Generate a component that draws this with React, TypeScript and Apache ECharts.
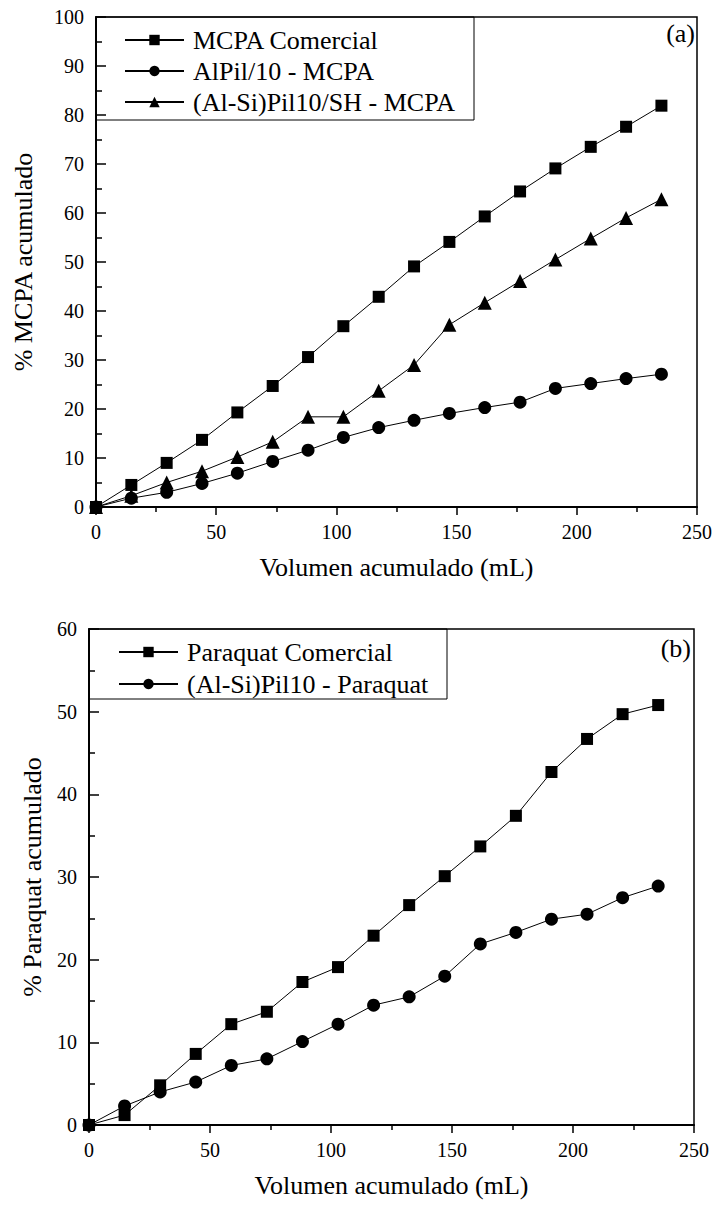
import React, { useEffect, useRef } from "react";
import * as echarts from "echarts";

const volumes = [0, 14.7, 29.4, 44.1, 58.8, 73.5, 88.2, 102.9, 117.6, 132.3, 147, 161.7, 176.4, 191.1, 205.8, 220.5, 235.2];

const mcpaComercial = [0, 4.5, 9, 13.7, 19.3, 24.7, 30.6, 36.9, 42.9, 49.1, 54.1, 59.3, 64.4, 69.1, 73.5, 77.6, 81.9];
const alPilMcpa = [0, 1.8, 3, 4.8, 6.9, 9.3, 11.6, 14.2, 16.2, 17.7, 19.1, 20.3, 21.4, 24.2, 25.2, 26.2, 27.1];
const alSiPilShMcpa = [0, 2.3, 5, 7.3, 10.2, 13.3, 18.4, 18.4, 23.7, 29, 37.2, 41.7, 46.1, 50.5, 54.8, 59, 62.8];

const paraquatComercial = [0, 1.2, 4.8, 8.6, 12.2, 13.7, 17.3, 19.1, 22.9, 26.6, 30.1, 33.7, 37.4, 42.7, 46.7, 49.7, 50.8];
const alSiPilParaquat = [0, 2.3, 4, 5.2, 7.2, 8, 10.1, 12.2, 14.5, 15.5, 18, 21.9, 23.3, 24.9, 25.5, 27.5, 28.9];

const namesA = ["MCPA Comercial", "AlPil/10 - MCPA", "(Al-Si)Pil10/SH - MCPA"];
const namesB = ["Paraquat Comercial", "(Al-Si)Pil10 - Paraquat"];

const FONT = "Liberation Serif";

const pairs = (ys: number[]) => volumes.map((x, i) => [x, ys[i]]);

export default function App() {
  const ref = useRef<HTMLDivElement>(null);
  useEffect(() => {
    document.body.style.margin = "0";
    const chart = echarts.init(ref.current!, null, { renderer: "svg" });
    const xAxisBase = (gridIndex: number) => ({
      gridIndex,
      type: "value",
      min: 0,
      max: 250,
      interval: 50,
      name: "Volumen acumulado (mL)",
      nameLocation: "middle",
      nameGap: 47,
      nameTextStyle: { fontFamily: FONT, fontSize: 26, color: "#000" },
      axisLine: { show: true, onZero: false, lineStyle: { color: "#000", width: 2 } },
      axisTick: { show: true, inside: false, length: 8, lineStyle: { color: "#000", width: 1.5 } },
      minorTick: { show: true, splitNumber: 2, length: 5, lineStyle: { color: "#000", width: 1.5 } },
      splitLine: { show: false },
      axisLabel: { fontFamily: FONT, fontSize: 20, color: "#000", margin: 15 },
    });
    const yAxisBase = (gridIndex: number, max: number, name: string, nameGap: number) => ({
      gridIndex,
      type: "value",
      min: 0,
      max,
      interval: 10,
      name,
      nameLocation: "middle",
      nameGap,
      nameTextStyle: { fontFamily: FONT, fontSize: 26, color: "#000" },
      axisLine: { show: true, onZero: false, lineStyle: { color: "#000", width: 2 } },
      axisTick: { show: true, inside: true, length: 10, lineStyle: { color: "#000", width: 1.5 } },
      minorTick: { show: true, splitNumber: 2, length: 6, lineStyle: { color: "#000", width: 1.5 } },
      splitLine: { show: false },
      axisLabel: { fontFamily: FONT, fontSize: 20, color: "#000", margin: 12 },
    });
    const seriesBase = (name: string, data: number[], xi: number, symbol: string, size: number) => ({
      name,
      type: "line",
      xAxisIndex: xi,
      yAxisIndex: xi,
      data: pairs(data),
      symbol,
      symbolSize: size,
      showAllSymbol: true,
      lineStyle: { color: "#000", width: 1 },
      itemStyle: { color: "#000" },
      clip: false,
    });
    const legendBase = {
      orient: "vertical",
      itemWidth: 59,
      itemHeight: 13,
      padding: 0,
      textStyle: { fontFamily: FONT, fontSize: 26, color: "#000", lineHeight: 26, padding: [0, 0, 0, 4] },
      inactiveColor: "#000",
      selectedMode: false,
    };
    chart.setOption({
      animation: false,
      backgroundColor: "#fff",
      grid: [
        { left: 96, top: 17, width: 601, height: 490, show: true, borderColor: "#000", borderWidth: 1.5, backgroundColor: "transparent" },
        { left: 89, top: 629, width: 605, height: 496, show: true, borderColor: "#000", borderWidth: 1.5, backgroundColor: "transparent" },
      ],
      xAxis: [xAxisBase(0), xAxisBase(1)],
      yAxis: [
        yAxisBase(0, 100, "% MCPA acumulado", 60),
        yAxisBase(1, 60, "% Paraquat acumulado", 44),
      ],
      legend: [
        { ...legendBase, data: namesA, left: 124, top: 27, itemGap: 5 },
        { ...legendBase, data: namesB, left: 118, top: 639, itemGap: 6 },
      ],
      graphic: [
        { type: "rect", shape: { x: 96, y: 17, width: 378, height: 103 }, style: { fill: "none", stroke: "#000", lineWidth: 1 }, z: 10 },
        { type: "rect", shape: { x: 89, y: 629, width: 358, height: 70 }, style: { fill: "none", stroke: "#000", lineWidth: 1 }, z: 10 },
        { type: "text", x: 695, y: 33, style: { text: "(a)", font: `26px ${FONT}`, fill: "#000", align: "right", verticalAlign: "middle" } },
        { type: "text", x: 691, y: 648, style: { text: "(b)", font: `26px ${FONT}`, fill: "#000", align: "right", verticalAlign: "middle" } },
      ],
      series: [
        seriesBase(namesA[0], mcpaComercial, 0, "rect", 12),
        seriesBase(namesA[1], alPilMcpa, 0, "circle", 13),
        seriesBase(namesA[2], alSiPilShMcpa, 0, "triangle", 14),
        seriesBase(namesB[0], paraquatComercial, 1, "rect", 12),
        seriesBase(namesB[1], alSiPilParaquat, 1, "circle", 13),
      ],
    });
    return () => chart.dispose();
  }, []);
  return <div ref={ref} style={{ position: "absolute", left: 0, top: 0, width: 716, height: 1209 }} />;
}
